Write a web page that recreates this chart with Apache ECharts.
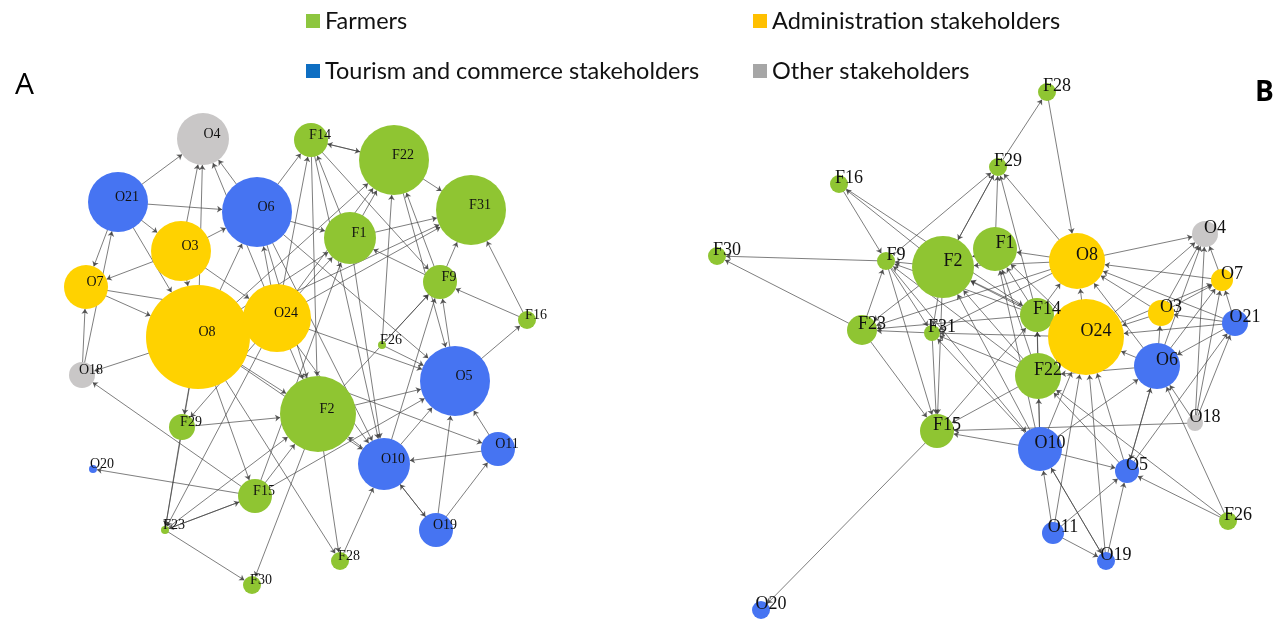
<!DOCTYPE html>
<html>
<head>
<meta charset="utf-8">
<script src="https://cdn.jsdelivr.net/npm/echarts@6/dist/echarts.min.js"></script>
<style>
  html, body { margin: 0; padding: 0; background: #fff; }
  #chart { width: 1275px; height: 619px; }
</style>
</head>
<body>
<div id="chart"></div>
<script>
// stakeholder groups
var groups = ['Farmers', 'Administration stakeholders', 'Tourism and commerce stakeholders', 'Other stakeholders'];

// network A
var namesA = ['O4','F14','F22','O21','O6','F1','F31','O3','O7','F9','O8','O24','F16','F26','O18','O5','F29','F2','O10','O11','O20','F15','O19','F23','F28','F30'];
var xA = [203,311,394,118,257,350,471,181,86,440,198,277,527,382,82,455,182,318,384,498,93,255,436,165,340,252];
var yA = [139,140,160,202,212,238,210,251,287,282,337,318,320,345,375,381,427,414,464,449,469,496,530,530,561,585];
var weightA = [26,17,35,30,35,26,35,30,22,17,52,34,9,4,13,35,13,38,26,17,4,17,17,4,9,9];
var groupA = [3,0,0,2,2,0,0,1,1,0,1,1,0,0,3,2,0,0,2,2,2,0,2,0,0,0];
var linksA = [
  ['O21','O4'],['O3','O4'],['O8','O4'],['O6','O4'],['O24','O4'],
  ['O21','O6'],['O21','O3'],['O21','O7'],['O21','O8'],['O18','O21'],
  ['O3','O7'],['O7','O8'],['O7','O24'],['O18','O7'],['O8','O18'],['F15','O18'],
  ['O3','O6'],['O3','O24'],['O3','O8'],
  ['O6','F14'],['O24','O6'],['O8','O6'],['O6','F1'],['O6','F2'],['O6','O5'],
  ['F14','F22'],['F22','F14'],['F1','F14'],['F14','F9'],['F14','F2'],['F14','O10'],['O24','F14'],
  ['F22','F31'],['F1','F22'],['F26','F22'],['F9','F22'],['O24','F22'],['O8','F22'],
  ['F1','F31'],['F9','F1'],['O24','F1'],['O8','F1'],['F15','F1'],
  ['F9','F31'],['F16','F31'],['O24','F31'],['O8','F31'],
  ['F16','F9'],['O10','F9'],['O5','F9'],['F2','F9'],['F26','F9'],
  ['O5','F16'],['O24','F2'],['O24','O10'],['O24','O5'],['O24','F29'],['O24','F23'],
  ['O8','F29'],['O8','F2'],['O8','F15'],['O8','O10'],['O8','O11'],['O8','F28'],['O8','F23'],
  ['F26','O5'],['F29','F2'],['F15','F2'],['F2','F30'],['O10','F2'],['F23','F2'],['F2','F28'],['F2','O5'],
  ['O10','O5'],['O11','O5'],['O19','O5'],['F15','O5'],
  ['O11','O10'],['O19','O10'],['O10','O19'],['O19','O11'],
  ['F15','O20'],['F15','F23'],['F23','F15'],['F23','F30'],['F29','F23'],['F28','O10'],
  ['O6','O10'],['F1','O10'],['F22','O5']
];

// network B
var namesB = ['F28','F29','F16','O4','F30','F9','F2','F1','O8','O7','O3','O21','F23','F31','F14','O24','O6','F22','O18','F15','O10','O5','F26','O11','O19','O20'];
var xB = [1047,998,839,1205,717,886,943,995,1077,1222,1161,1235,862,932,1037,1086,1157,1038,1195,937,1040,1127,1228,1053,1106,761];
var yB = [92,167,184,234,256,261,267,249,261,280,313,323,330,333,315,337,366,376,423,431,449,471,521,533,561,610];
var weightB = [9,9,9,13,9,9,31,22,28,11,13,13,15,8,17,38,23,23,8,17,22,12,9,11,9,9];
var groupB = [0,0,0,3,0,0,0,0,1,1,1,2,0,0,0,1,2,0,3,0,2,2,0,2,2,2];
var linksB = [
  ['F29','F28'],['F28','O8'],
  ['F9','F29'],['F2','F29'],['F29','F2'],['F1','F29'],['F14','F29'],['O8','F29'],
  ['F16','F9'],['F2','F16'],['F16','F14'],
  ['F9','F30'],['F23','F30'],
  ['F2','F9'],['F23','F9'],['F9','F31'],['F9','F15'],['F9','O10'],['F14','F9'],['F22','F9'],
  ['F1','F2'],['O8','F2'],['F14','F2'],['F2','F23'],['F2','F31'],['F22','F2'],['O10','F2'],['O24','F2'],
  ['O8','F1'],['F14','F1'],['F22','F1'],['O24','F1'],['O10','F1'],
  ['O8','O4'],['O7','O8'],['O3','O8'],['O21','O8'],['O24','O8'],['F14','O8'],['O8','F31'],['O6','O8'],['O8','F23'],
  ['O7','O4'],['O3','O4'],['O6','O4'],['O24','O4'],['O18','O4'],
  ['O3','O7'],['O21','O7'],['O24','O7'],['O18','O7'],['O6','O7'],
  ['O3','O24'],['O21','O3'],['O6','O3'],
  ['O21','O24'],['O21','O6'],['O18','O21'],['O5','O21'],
  ['F31','F23'],['F14','F23'],['F23','F15'],
  ['O24','F31'],['F22','F31'],['F31','F15'],['O10','F31'],
  ['F22','F14'],['O24','F14'],['O10','F14'],
  ['O24','F22'],['O6','O24'],['O10','O24'],['O5','O24'],['O11','O24'],['O19','O24'],
  ['O6','O5'],['O5','O6'],['O18','O6'],['F26','O6'],['O10','O6'],['O6','F22'],
  ['O10','F22'],['O5','F22'],['F22','F15'],
  ['O18','F15'],['O10','F15'],['O10','O5'],['O11','O10'],['O19','O10'],['O10','O19'],
  ['O11','O5'],['O19','O5'],['F26','O5'],['O11','O19'],['F26','F22'],
  ['F15','O20'],['F15','F14'],['F2','F15']
];

var nodeColors = ['#8fc532', '#ffd200', '#4674f2', '#c9c7c7'];
var legendColors = ['#8dc63f', '#ffc000', '#0e6ec2', '#a6a6a6'];

function buildNodes(names, xs, ys, weights, grp) {
  return names.map(function (n, i) {
    return {
      name: n,
      value: [xs[i], ys[i]],
      symbolSize: weights[i] * 2,
      category: grp[i]
    };
  });
}
function buildLinks(list) {
  return list.map(function (l) {
    return { source: l[0], target: l[1] };
  });
}

var categories = groups.map(function (g, i) {
  return { name: g, itemStyle: { color: nodeColors[i] } };
});

function graphSeries(id, nodes, links, fontSize, offset) {
  return {
    id: id,
    type: 'graph',
    coordinateSystem: 'cartesian2d',
    xAxisIndex: 0,
    yAxisIndex: 0,
    layout: 'none',
    categories: categories,
    data: nodes,
    links: links,
    edgeSymbol: ['none', 'arrow'],
    edgeSymbolSize: [0, 5],
    lineStyle: {
      color: '#404040',
      width: 0.8,
      opacity: 0.85,
      curveness: 0
    },
    label: {
      show: true,
      position: 'inside',
      offset: offset,
      color: '#111',
      fontFamily: 'Liberation Serif',
      fontSize: fontSize,
      formatter: '{b}'
    },
    emphasis: { disabled: true },
    z: 2
  };
}

var legendPos = [[301, 4], [748, 4], [301, 54], [748, 54]];
var legends = groups.map(function (g, i) {
  return {
    data: [{ name: g, itemStyle: { color: legendColors[i] } }],
    left: legendPos[i][0],
    top: legendPos[i][1],
    icon: 'rect',
    itemWidth: 14,
    itemHeight: 14,
    selectedMode: false,
    textStyle: {
      fontFamily: 'Lato',
      fontSize: 23.5,
      color: '#111'
    }
  };
});

var option = {
  animation: false,
  backgroundColor: '#fff',
  title: [
    { text: 'A', left: 10, top: 65, textStyle: { fontFamily: 'Open Sans', fontSize: 30, fontWeight: 'normal', color: '#000' } },
    { text: 'B', left: 1250, top: 74, textStyle: { fontFamily: 'Open Sans', fontSize: 28, fontWeight: 'bold', color: '#000' } }
  ],
  legend: legends,
  grid: { left: 0, top: 0, width: 1275, height: 619 },
  xAxis: { type: 'value', min: 0, max: 1275, show: false },
  yAxis: { type: 'value', min: 0, max: 619, inverse: true, show: false },
  series: [
    graphSeries('A', buildNodes(namesA, xA, yA, weightA, groupA), buildLinks(linksA), 14, [9, -5]),
    graphSeries('B', buildNodes(namesB, xB, yB, weightB, groupB), buildLinks(linksB), 18, [10, -6])
  ]
};

var chart = echarts.init(document.getElementById('chart'));
chart.setOption(option);
</script>
</body>
</html>
